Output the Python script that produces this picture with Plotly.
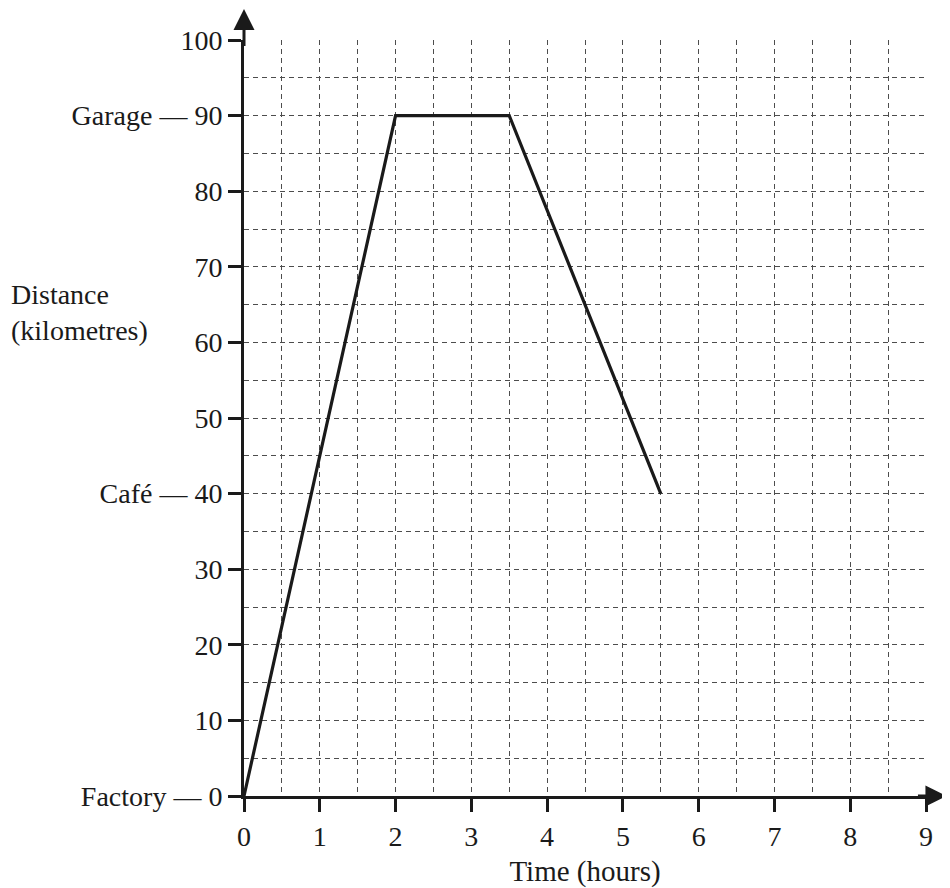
import plotly.graph_objects as go

# Data
time_hours = [0, 2, 3.5, 5.5]
distance_km = [0, 90, 90, 40]

x_ticks = [0, 1, 2, 3, 4, 5, 6, 7, 8, 9]
y_ticks = [0, 10, 20, 30, 40, 50, 60, 70, 80, 90, 100]
place_names = {0: "Factory", 40: "Café", 90: "Garage"}

FONT = "Liberation Serif"
FS = 28

y_text = []
for v in y_ticks:
    if v in place_names:
        y_text.append(f"{place_names[v]} \u2014 {v}")
    else:
        y_text.append(str(v))

fig = go.Figure()
fig.add_trace(go.Scatter(x=time_hours, y=distance_km, mode="lines",
                         line=dict(color="#1a1a1a", width=3.2), showlegend=False,
                         cliponaxis=False))

grid_kw = dict(showgrid=True, gridcolor="#4d4d4d", gridwidth=1, griddash="5px,4px")

fig.update_layout(
    width=942, height=880,
    margin=dict(l=236, r=24, t=32, b=92),
    paper_bgcolor="white", plot_bgcolor="white",
    font=dict(family=FONT, size=FS, color="#1a1a1a"),
    xaxis=dict(range=[0, 9], tickmode="array", tickvals=x_ticks,
               ticktext=[str(v) for v in x_ticks], automargin=False,
               ticks="outside", ticklen=13, tickwidth=3, tickcolor="#1a1a1a",
               showline=True, linecolor="#1a1a1a", linewidth=3, zeroline=False,
               title=dict(text="Time (hours)", standoff=14, font=dict(size=29)),
               minor=dict(dtick=0.5, tick0=0, **grid_kw),
               **grid_kw),
    yaxis=dict(range=[0, 100], tickmode="array", tickvals=y_ticks, ticktext=y_text,
               automargin=False,
               ticks="outside", ticklen=13, tickwidth=3, tickcolor="#1a1a1a",
               showline=True, linecolor="#1a1a1a", linewidth=3, zeroline=False,
               minor=dict(dtick=5, tick0=0, **grid_kw),
               **grid_kw),
)

# Axis arrows
fig.add_annotation(x=1.03, y=0, xref="paper", yref="paper", ax=-30, ay=0,
                   showarrow=True, arrowhead=2, arrowsize=1.4, arrowwidth=3,
                   arrowcolor="#1a1a1a", text="")
fig.add_annotation(x=0, y=1.043, xref="paper", yref="paper", ax=0, ay=40,
                   showarrow=True, arrowhead=2, arrowsize=1.4, arrowwidth=3,
                   arrowcolor="#1a1a1a", text="")

fig.add_annotation(x=-0.345, y=64, xref="paper", yref="y", xanchor="left",
                   yanchor="middle", align="left", showarrow=False,
                   text="Distance<br>(kilometres)", font=dict(size=FS))

fig.write_html("out.html")
